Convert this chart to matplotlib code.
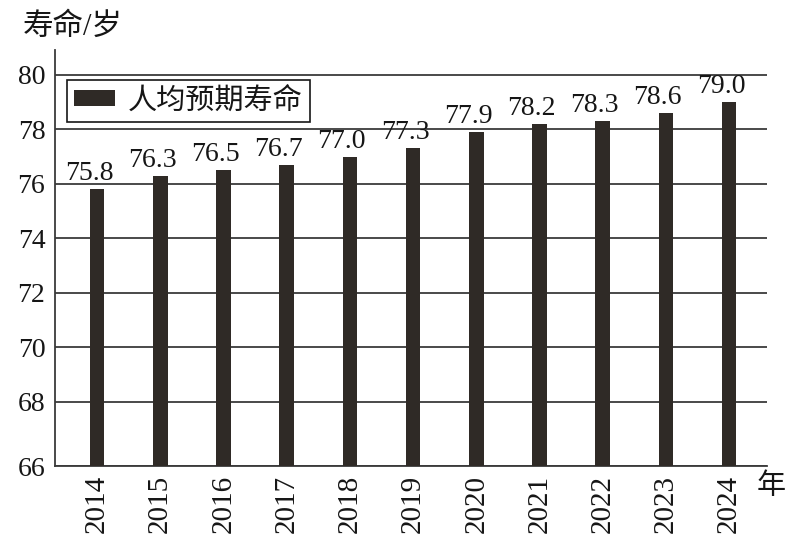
import numpy as np
import matplotlib
matplotlib.use("Agg")
import matplotlib.pyplot as plt
from matplotlib.ticker import FixedLocator, FixedFormatter

plt.rcParams['font.family'] = ['Liberation Serif', 'Noto Sans CJK SC', 'DejaVu Sans']

# ---- data ----
years = ["2014", "2015", "2016", "2017", "2018", "2019", "2020", "2021", "2022", "2023", "2024"]
life_expectancy = [75.8, 76.3, 76.5, 76.7, 77.0, 77.3, 77.9, 78.2, 78.3, 78.6, 79.0]
y_ticks = [66, 68, 70, 72, 74, 76, 78, 80]
series_name = "人均预期寿命"
y_title = "寿命/岁"
x_title = "年"

bar_color = "#2f2a26"
ink = "#161616"
grid_color = "#3a3a3a"

fig = plt.figure(figsize=(8, 5.43), dpi=100)
ax = fig.add_axes([0.06875, 0.1418, 0.89, 0.7662])

# the printed chart stretches the lowest interval (66-68) slightly
k = 64.0 / 54.0
def fwd(y):
    y = np.asarray(y, dtype=float)
    return np.where(y >= 68, y, 68 - (68 - y) * k)
def inv(t):
    t = np.asarray(t, dtype=float)
    return np.where(t >= 68, t, 68 - (68 - t) / k)
ax.set_yscale('function', functions=(fwd, inv))

x = np.arange(len(years))
bars = ax.bar(x, life_expectancy, width=0.23, color=bar_color, zorder=3, label=series_name)

for xi, v in zip(x, life_expectancy):
    ax.annotate(f"{v:.1f}", xy=(xi, v), xytext=(-8, 9), textcoords='offset pixels',
                ha='center', va='baseline', fontsize=20, color=ink, zorder=4)

ax.set_xlim(-0.665, 10.60)
ax.set_ylim(66, 80.92)

ax.yaxis.set_major_locator(FixedLocator(y_ticks))
ax.yaxis.set_major_formatter(FixedFormatter([str(t) for t in y_ticks]))
ax.yaxis.set_minor_locator(FixedLocator([]))
ax.tick_params(axis='y', length=0, pad=7, labelsize=20, labelcolor=ink)
ax.set_xticks(x)
ax.set_xticklabels(years, rotation=90, fontsize=21, color=ink)
ax.tick_params(axis='x', length=0, pad=6.5)

ax.grid(axis='y', color=grid_color, linewidth=1.3, zorder=1)
ax.set_axisbelow(True)
for s in ['top', 'right']:
    ax.spines[s].set_visible(False)
for s in ['left', 'bottom']:
    ax.spines[s].set_color(grid_color)
    ax.spines[s].set_linewidth(1.3)

leg = ax.legend(loc='upper left', bbox_to_anchor=(0.08375, 0.8527), bbox_transform=fig.transFigure,
                borderaxespad=0, fontsize=21, frameon=True, fancybox=False,
                handlelength=1.38, handleheight=0.45, handletextpad=0.45, borderpad=0.25)
frame = leg.get_frame()
frame.set_edgecolor(ink)
frame.set_linewidth(1.2)
frame.set_facecolor('white')
frame.set_alpha(1)
for t in leg.get_texts():
    t.set_color(ink)

fig.text(0.029, 0.950, y_title, fontsize=22, color=ink, ha='left', va='center')
fig.text(0.964, 0.103, x_title, fontsize=21, color=ink, ha='center', va='center')

fig.savefig("out.png", dpi=100, facecolor='white')
